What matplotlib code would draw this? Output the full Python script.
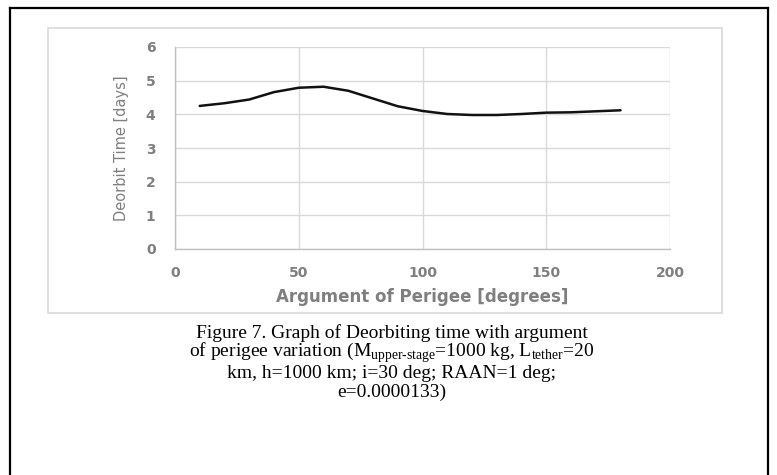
import matplotlib
matplotlib.use('Agg')
import matplotlib.pyplot as plt
from matplotlib.lines import Line2D
from matplotlib.patches import Rectangle

# argument of perigee [deg] and deorbit time [days]
perigee = [10, 20, 30, 40, 50, 60, 70, 80, 90, 100, 110, 120, 130, 140, 150, 160, 170, 180]
deorbit_days = [4.25, 4.33, 4.44, 4.66, 4.79, 4.82, 4.70, 4.47, 4.24, 4.10,
                4.01, 3.98, 3.98, 4.01, 4.05, 4.06, 4.09, 4.12]
x_ticks = [0, 50, 100, 150, 200]
y_ticks = [0, 1, 2, 3, 4, 5, 6]

caption_lines = [
    "Figure 7. Graph of Deorbiting time with argument",
    r"of perigee variation (M$_{\text{upper-stage}}$=1000 kg, L$_{\text{tether}}$=20",
    "km, h=1000 km; i=30 deg; RAAN=1 deg;",
    "e=0.0000133)",
]

plt.rcParams['mathtext.fontset'] = 'custom'
plt.rcParams['mathtext.rm'] = 'Liberation Serif'

W, H = 777, 475
fig = plt.figure(figsize=(W / 100, H / 100), dpi=100)
fig.patch.set_facecolor('white')

# outer black frame (bottom edge is cut off in the original)
frame_kw = dict(color='black', lw=1.6, transform=fig.transFigure)
fig.add_artist(Line2D([10 / W, 10 / W], [0, 1 - 8 / H], **frame_kw))
fig.add_artist(Line2D([10 / W, 768 / W], [1 - 8 / H, 1 - 8 / H], **frame_kw))
fig.add_artist(Line2D([768 / W, 768 / W], [0, 1 - 8 / H], **frame_kw))

# light grey chart box
fig.add_artist(Rectangle((48 / W, 1 - 313 / H), (722 - 48) / W, (313 - 28) / H,
                         transform=fig.transFigure, fill=False,
                         edgecolor='#d9d9d9', lw=1.2))

ax = fig.add_axes([175 / W, 1 - 249 / H, (670 - 175) / W, (249 - 47) / H])
ax.plot(perigee, deorbit_days, color='#111111', lw=1.8, solid_capstyle='round',
        solid_joinstyle='round')

ax.set_xlim(0, 200)
ax.set_ylim(0, 6)
ax.set_xticks(x_ticks)
ax.set_yticks(y_ticks)
ax.grid(True, color='#d9d9d9', lw=1.0)
ax.set_axisbelow(True)
for side in ['top', 'right']:
    ax.spines[side].set_visible(False)
for side in ['left', 'bottom']:
    ax.spines[side].set_color('#bfbfbf')
    ax.spines[side].set_linewidth(1.0)
ax.tick_params(length=0, colors='#7f7f7f', labelsize=10)
ax.tick_params(axis='x', pad=12)
ax.tick_params(axis='y', pad=14)
for lab in ax.get_xticklabels() + ax.get_yticklabels():
    lab.set_fontweight('bold')
    lab.set_family('DejaVu Sans')

ax.set_xlabel('Argument of Perigee [degrees]', color='#7f7f7f', fontsize=12,
              fontweight='bold', labelpad=6)
ax.set_ylabel('Deorbit Time [days]', color='#7f7f7f', fontsize=10.5, labelpad=12)

# caption under the chart
caption_y = [333, 353, 373, 392]
for text, yy in zip(caption_lines, caption_y):
    fig.text(392 / W, 1 - yy / H, text, ha='center', va='center',
             family='Liberation Serif', fontsize=14, color='black')

fig.savefig('out.png', dpi=100)
